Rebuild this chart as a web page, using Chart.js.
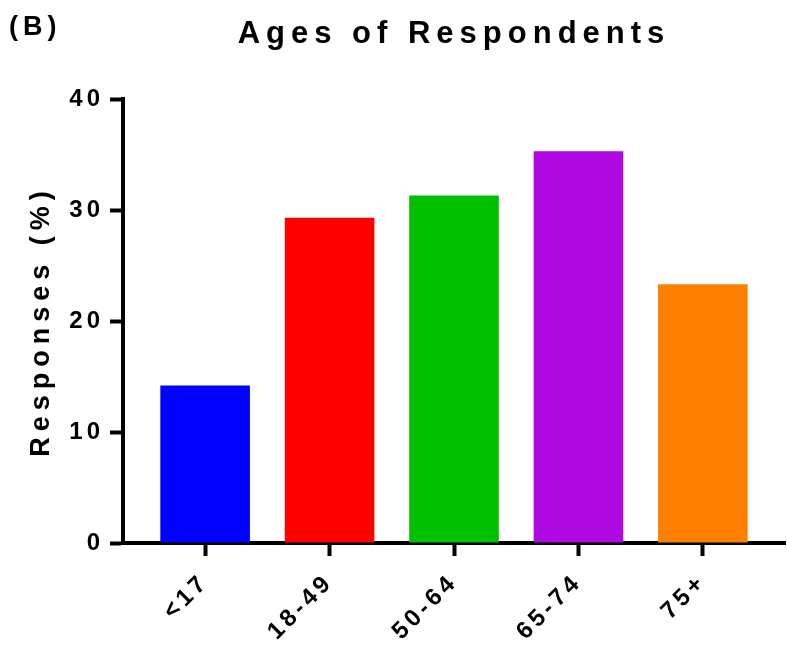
<!DOCTYPE html>
<html>
<head>
<meta charset="utf-8">
<script src="https://cdn.jsdelivr.net/npm/chart.js@4/dist/chart.umd.min.js"></script>
<style>
  html, body { margin: 0; padding: 0; background: #fff; }
  #wrap { width: 787px; height: 646px; }
</style>
</head>
<body>
<div id="wrap"><canvas id="ageChart"></canvas></div>
<script>
const ageGroups = ['<17', '18-49', '50-64', '65-74', '75+'];
const responses = [14.2, 29.3, 31.3, 35.3, 23.3];
const barColors = ['#0000ff', '#ff0000', '#00c000', '#af08e1', '#ff8000'];
const yTicks = [0, 10, 20, 30, 40];

const FONT = '"Liberation Sans", Arial, sans-serif';
const TICK_SPACING = '4px';

// wide letter spacing like the original figure, a bit wider for the titles
function withSpacing(fn, sp, chart) {
  return function () {
    const c = chart.ctx;
    c.save();
    c.letterSpacing = sp;
    fn.apply(this, arguments);
    c.restore();
  };
}

const spacing = {
  id: 'spacing',
  beforeLayout(chart) { chart.ctx.letterSpacing = TICK_SPACING; },
  beforeDraw(chart) {
    chart.ctx.letterSpacing = TICK_SPACING;
    const t = chart.titleBlock;
    if (t && !t._spaced) { t.draw = withSpacing(t.draw, '6px', chart); t._spaced = true; }
    const y = chart.scales.y;
    if (y && !y._spaced) { y.drawTitle = withSpacing(y.drawTitle, '6px', chart); y._spaced = true; }
  }
};

const panelLetter = {
  id: 'panelLetter',
  afterDraw(chart) {
    const c = chart.ctx;
    c.save();
    c.letterSpacing = '5px';
    c.font = 'bold 27px ' + FONT;
    c.fillStyle = '#000';
    c.textBaseline = 'alphabetic';
    c.textAlign = 'left';
    c.fillText('(B)', 9, 35);
    c.restore();
  }
};

const ctx = document.getElementById('ageChart');

new Chart(ctx, {
  type: 'bar',
  data: {
    datasets: [{
      label: 'Responses (%)',
      data: responses.map((v, i) => ({ x: i, y: v })),
      backgroundColor: barColors,
      borderWidth: 0,
      barPercentage: 0.72,
      categoryPercentage: 1
    }]
  },
  plugins: [spacing, panelLetter],
  options: {
    responsive: true,
    maintainAspectRatio: false,
    animation: false,
    layout: { padding: { left: 0, right: 2, top: 0, bottom: 0 } },
    plugins: {
      legend: { display: false },
      tooltip: { enabled: false },
      title: {
        display: true,
        text: 'Ages of Respondents',
        fullSize: false,
        color: '#000',
        font: { family: FONT, size: 31, weight: 'bold', lineHeight: 1.2 },
        padding: { top: 16, bottom: 45.8 }
      }
    },
    scales: {
      x: {
        type: 'linear',
        min: -0.66,
        max: 4.66,
        offset: false,
        afterFit(s) { s.height = 103; },
        border: { display: true, color: '#000', width: 4 },
        grid: { display: true, offset: false, drawOnChartArea: false, color: '#000', tickLength: 13, tickWidth: 4 },
        ticks: {
          stepSize: 1,
          includeBounds: false,
          autoSkip: false,
          minRotation: 45,
          maxRotation: 45,
          padding: 12,
          color: '#000',
          font: { family: FONT, size: 24, weight: 'bold' },
          callback: v => ageGroups[v]
        }
      },
      y: {
        min: 0,
        max: 40,
        afterFit(s) { s.width = 123; },
        afterBuildTicks(s) { s.ticks = yTicks.map(v => ({ value: v })); },
        border: { display: true, color: '#000', width: 4 },
        grid: { display: true, drawOnChartArea: false, color: '#000', tickLength: 13, tickWidth: 4 },
        ticks: {
          padding: 6,
          color: '#000',
          font: { family: FONT, size: 24, weight: 'bold' }
        },
        title: {
          display: true,
          text: 'Responses (%)',
          color: '#000',
          font: { family: FONT, size: 27, weight: 'bold', lineHeight: 1.2 },
          padding: { top: 25, bottom: 0 }
        }
      }
    }
  }
});
</script>
</body>
</html>
